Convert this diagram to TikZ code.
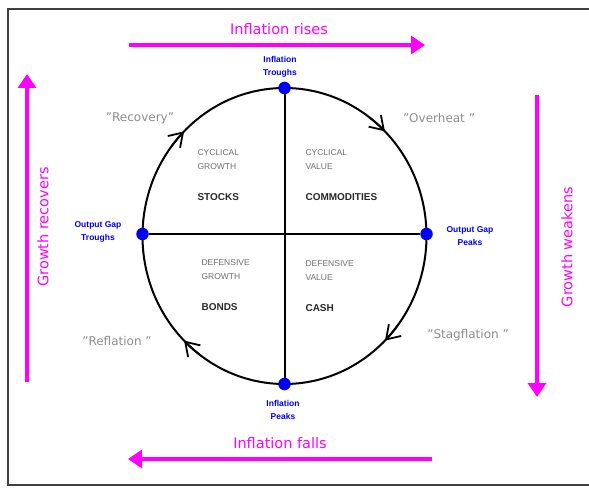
\documentclass[tikz,border=0pt]{standalone}
\usepackage{fontspec}
\setmainfont{DejaVu Sans}
\newfontfamily\blufont{Liberation Sans}
\newfontfamily\quadfont{Liberation Sans}
\usetikzlibrary{arrows.meta}
\definecolor{mag}{RGB}{255,0,255}
\definecolor{dotblue}{RGB}{0,0,240}
\definecolor{qgray}{RGB}{140,140,140}
\definecolor{lgray}{RGB}{110,110,110}
\definecolor{dgray}{RGB}{40,40,40}
\newcommand{\sq}{\symbol{34}}
\tikzset{
  bigarrow/.style={draw=mag, line width=3.5pt, -{Triangle[length=14pt,width=18pt]}},
  magtext/.style={text=mag, font=\fontsize{14.5}{16}\selectfont},
  dot/.style={circle, fill=dotblue, inner sep=0pt, minimum size=12.5pt},
  bluelab/.style={text=dotblue, font=\blufont\bfseries\fontsize{8.5}{13}\selectfont, align=center},
  quote/.style={text=qgray, font=\fontsize{12}{14}\selectfont},
  small/.style={text=lgray, font=\quadfont\fontsize{8.5}{14}\selectfont, align=left, anchor=west},
  asset/.style={text=dgray, font=\quadfont\bfseries\fontsize{10}{12}\selectfont, anchor=west},
  chev/.style={line width=1.8pt, -{Straight Barb[length=13pt,width=17pt]}},
}
\begin{document}
\begin{tikzpicture}[x=1pt,y=1pt]
\useasboundingbox (0,0) rectangle (589,-489);
\draw[line width=1.8pt, black!75] (590,-9) -- (8,-9) -- (8,-485) -- (590,-485);
% magenta arrows
\coordinate (t1) at (129,-45); \coordinate (t2) at (425,-45);
\coordinate (b1) at (432,-459); \coordinate (b2) at (128,-459);
\coordinate (l1) at (27,-382); \coordinate (l2) at (27,-74);
\coordinate (r1) at (537,-95); \coordinate (r2) at (537,-397);
\draw[bigarrow] (t1) -- (t2);
\draw[bigarrow] (b1) -- (b2);
\draw[bigarrow] (l1) -- (l2);
\draw[bigarrow] (r1) -- (r2);
\node[magtext] (tt) at (279,-29) {Inflation rises};
\node[magtext] (bt) at (280,-443) {Inflation falls};
\node[magtext, rotate=90] (lt) at (43,-227) {Growth recovers};
\node[magtext, rotate=90] (rt) at (567,-247) {Growth weakens};
% circle
\coordinate (c) at (284.5,-236);
\draw[line width=2pt] (c) ellipse [x radius=142, y radius=148];
\foreach \a in {135,45,-45,225}{
  \draw[chev] (c) ++(\a+8:142 and 148) arc[start angle=\a+8, end angle=\a, x radius=142, y radius=148];
}
\node[dot] (top) at (284.5,-88) {};
\node[dot] (bot) at (284.5,-384) {};
\node[dot] (lft) at (142.5,-234) {};
\node[dot] (rgt) at (426.5,-234) {};
\draw[line width=2pt] (top) -- (bot);
\draw[line width=2pt] (lft) -- (rgt);
% blue labels
\node[bluelab] (tl) at (280,-67) {Inflation\\Troughs};
\node[bluelab] (bl) at (283,-410) {Inflation\\Peaks};
\node[bluelab] (ll) at (98,-232) {Output Gap\\Troughs};
\node[bluelab] (rl) at (470,-236) {Output Gap\\Peaks};
% quotes
\node[quote] (q1) at (140,-118) {\sq Recovery\sq};
\node[quote] (q2) at (439,-118) {\sq Overheat \sq};
\node[quote] (q3) at (468,-335) {\sq Stagflation \sq};
\node[quote] (q4) at (117,-341) {\sq Reflation \sq};
% quadrants
\node[small] (s1) at (194,-160) {CYCLICAL\\GROWTH};
\node[asset] (a1) at (194,-197) {STOCKS};
\node[small] (s2) at (302,-160) {CYCLICAL\\VALUE};
\node[asset] (a2) at (302,-197) {COMMODITIES};
\node[small] (s3) at (198,-270) {DEFENSIVE\\GROWTH};
\node[asset] (a3) at (198,-307) {BONDS};
\node[small] (s4) at (302,-271) {DEFENSIVE\\VALUE};
\node[asset] (a4) at (302,-308) {CASH};
\end{tikzpicture}
\end{document}
